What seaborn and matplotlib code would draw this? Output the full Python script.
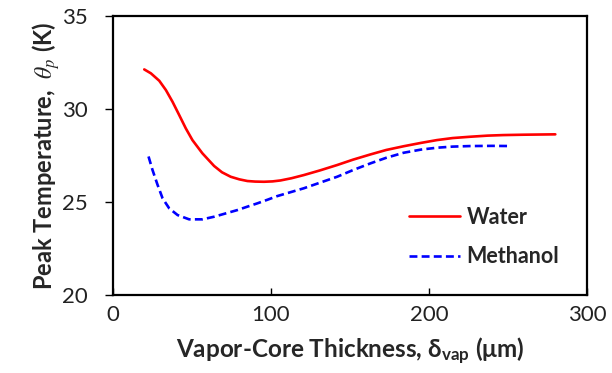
import numpy as np
import pandas as pd
import matplotlib
matplotlib.use("Agg")
import matplotlib.pyplot as plt
import seaborn as sns
from matplotlib.lines import Line2D

water_x = [19.8, 24, 29.3, 33.5, 37.7, 41.9, 46.1, 50.3, 56.6, 64, 69, 74.5, 80, 85.1, 90, 95.6, 101, 106,
           113, 120.8, 131, 141.9, 152, 163, 173, 184, 195, 205, 215, 226, 237, 247, 260, 280]
water_y = [32.13, 31.92, 31.52, 31.02, 30.39, 29.68, 28.96, 28.33, 27.62, 26.94, 26.6, 26.36, 26.22, 26.13, 26.1, 26.09, 26.11, 26.16,
           26.28, 26.45, 26.7, 26.99, 27.28, 27.56, 27.8, 28.0, 28.18, 28.33, 28.44, 28.51, 28.57, 28.6, 28.62, 28.64]
meth_x = [22.5, 25, 28.2, 31.4, 35.6, 40.9, 48.2, 56.6, 64, 71, 78.8, 85, 91.4, 98, 104,
          112, 120.8, 131, 141.9, 152, 163, 173, 184, 195, 205, 215, 226, 240, 252]
meth_y = [27.45, 26.73, 25.93, 25.2, 24.66, 24.3, 24.07, 24.07, 24.21, 24.38, 24.57, 24.75, 24.93, 25.13, 25.32,
          25.52, 25.74, 26.04, 26.36, 26.72, 27.08, 27.38, 27.65, 27.82, 27.92, 27.98, 28.01, 28.02, 28.01]
series_names = ["Water", "Methanol"]
x_ticks = [0, 100, 200, 300]
y_ticks = [20, 25, 30, 35]

df = pd.concat([
    pd.DataFrame({"x": water_x, "y": water_y, "fluid": series_names[0]}),
    pd.DataFrame({"x": meth_x, "y": meth_y, "fluid": series_names[1]}),
], ignore_index=True)

sns.set_theme(style="white")
plt.rcParams['font.family'] = ['Lato', 'DejaVu Sans']
plt.rcParams['mathtext.fontset'] = 'stix'

fig = plt.figure(figsize=(6.12, 3.73), dpi=100)
ax = fig.add_axes([0.1846, 0.209, 0.959 - 0.1846, 0.957 - 0.209])

sns.lineplot(data=df, x="x", y="y", hue="fluid", style="fluid",
             palette={"Water": "#FF0000", "Methanol": "#0000FF"},
             dashes={"Water": "", "Methanol": (3, 1.6)},
             linewidth=1.9, ax=ax, sort=True, estimator=None, legend=False)

ax.set_xlim(0, 300)
ax.set_ylim(20, 35)
ax.set_xticks(x_ticks)
ax.set_yticks(y_ticks)
ax.tick_params(axis='x', direction='in', length=5, width=1, labelsize=16, pad=7, colors='#222222', bottom=True)
ax.tick_params(axis='y', direction='out', length=6, width=1, labelsize=16, pad=12, colors='#222222', left=True)
ax.tick_params(axis='both', color='black')
for s in ax.spines.values():
    s.set_visible(True)
    s.set_color('black')
    s.set_linewidth(1.6)

ax.set_xlabel(r"Vapor-Core Thickness, $\mathregular{\delta_{vap}}$ (μm)", fontsize=17.5, fontweight='bold', labelpad=8)
ax.set_ylabel(r"Peak Temperature,  $\theta_p$ (K)", fontsize=17, fontweight='bold', labelpad=0.5)

handles = [Line2D([], [], color="#FF0000", lw=1.9),
           Line2D([], [], color="#0000FF", lw=1.9, dashes=(3, 1.6))]
leg = ax.legend(handles, series_names, frameon=False, loc='lower right',
                bbox_to_anchor=(0.983, 0.03), handlelength=2.4, handletextpad=0.3,
                labelspacing=0.85, prop={'size': 15.5, 'weight': 'bold'})

fig.savefig("out.png", dpi=100)
